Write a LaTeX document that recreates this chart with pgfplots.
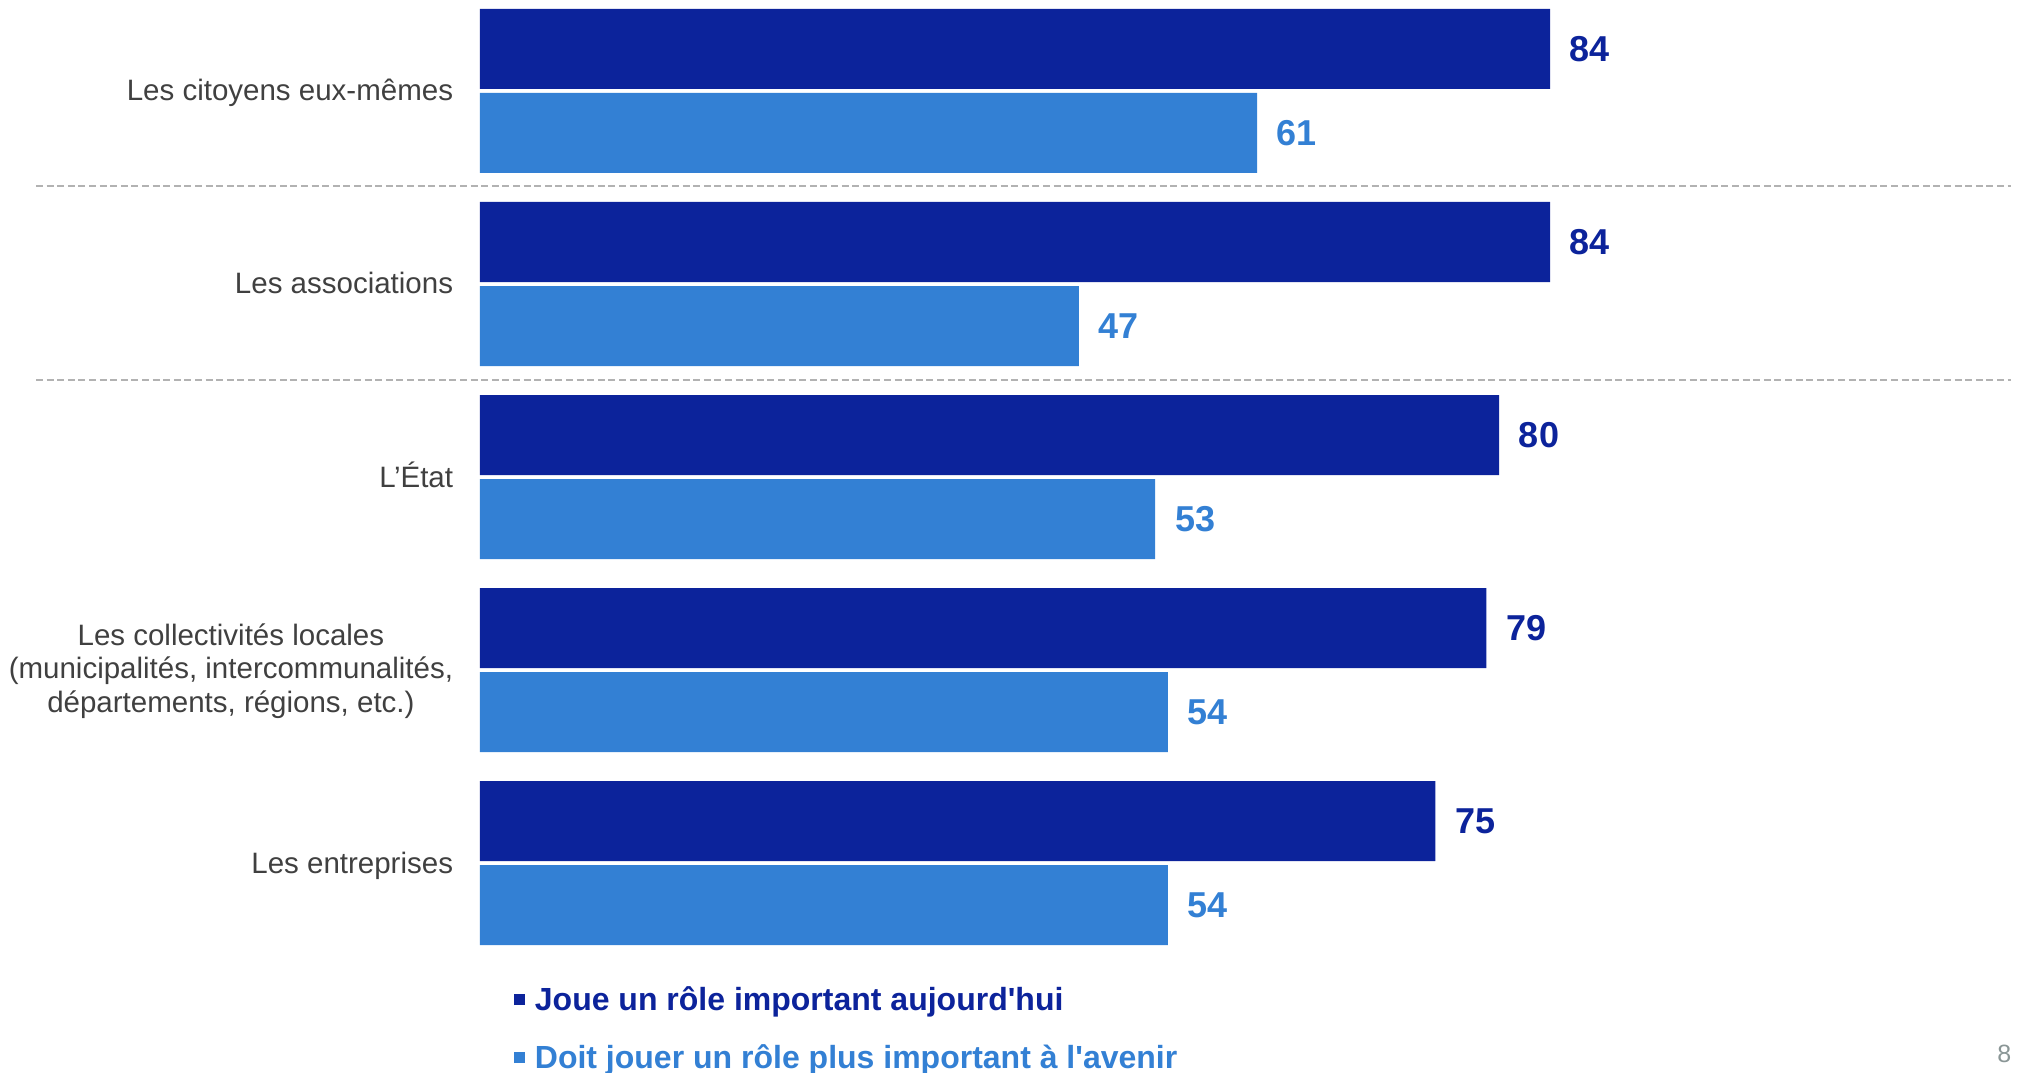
\documentclass[border=0pt]{standalone}
\usepackage{fontspec}
\setmainfont{Liberation Sans}[Ligatures=TeXOff]
\usepackage{pgfplots}
\pgfplotsset{compat=1.18}
\definecolor{dark}{RGB}{12,35,155}
\definecolor{light}{RGB}{51,128,212}
\definecolor{labelgray}{RGB}{64,64,64}
\definecolor{dashgray}{RGB}{178,178,178}
\definecolor{pagegray}{RGB}{138,150,150}
\begin{document}
\begin{tikzpicture}
\begin{axis}[
  name=main,
  scale only axis, width=505.25bp, height=268.25bp,
  xmin=-37.676, xmax=120.96, ymin=0, ymax=1073, y dir=reverse,
  hide axis, clip=false,
  xbar, bar width=20bp,
  point meta=x,
  /pgf/number format/assume math mode=true,
  nodes near coords,
  nodes near coords style={font=\fontsize{9bp}{9bp}\selectfont\bfseries, anchor=west, inner sep=0pt, xshift=4.75bp},
]
\path (rel axis cs:0,0) rectangle (rel axis cs:1,1);
\addplot[fill=dark, draw=none, bar shift=0pt, every node near coord/.append style={text=dark}]
  coordinates {(84,49) (84,242) (80,435) (79,628) (75,821)};
\addplot[fill=light, draw=none, bar shift=0pt, every node near coord/.append style={text=light}]
  coordinates {(61,133) (47,326) (53,519) (54,712) (54,905)};

\draw[dashgray, line width=0.6bp, dash pattern=on 1.75bp off 0.9bp] (axis cs:-34.85,186) -- (axis cs:120.17,186);
\draw[dashgray, line width=0.6bp, dash pattern=on 1.75bp off 0.9bp] (axis cs:-34.85,380) -- (axis cs:120.17,380);

\begin{scope}[every node/.style={inner sep=0pt, text=labelgray, font=\fontsize{7.375bp}{8.375bp}\selectfont}]
\node[anchor=base east] at (axis cs:-2.05,101) {Les citoyens eux-mêmes};
\node[anchor=base east] at (axis cs:-2.05,294) {Les associations};
\node[anchor=base east] at (axis cs:-2.05,487) {L’État};
\node[anchor=east, align=center] at (axis cs:-2.05,671) {Les collectivités locales\\(municipalités, intercommunalités,\\départements, régions, etc.)};
\node[anchor=base east] at (axis cs:-2.05,873) {Les entreprises};
\end{scope}

\node[anchor=base west, inner sep=0pt, font=\fontsize{8bp}{8bp}\selectfont\bfseries, text=dark] at (axis cs:2.6,1010) {\rule[1.25bp]{2.75bp}{2.75bp}\hspace{2.5bp}Joue un rôle important aujourd'hui};
\node[anchor=base west, inner sep=0pt, font=\fontsize{8bp}{8bp}\selectfont\bfseries, text=light] at (axis cs:2.6,1068) {\rule[1.25bp]{2.75bp}{2.75bp}\hspace{2.5bp}Doit jouer un rôle plus important à l'avenir};

\node[anchor=base east, inner sep=0pt, font=\fontsize{6.25bp}{6.25bp}\selectfont, text=pagegray] at (axis cs:120.25,1062) {8};
\end{axis}
\pgfresetboundingbox
\useasboundingbox (main.south west) rectangle (main.north east);
\end{tikzpicture}
\end{document}
